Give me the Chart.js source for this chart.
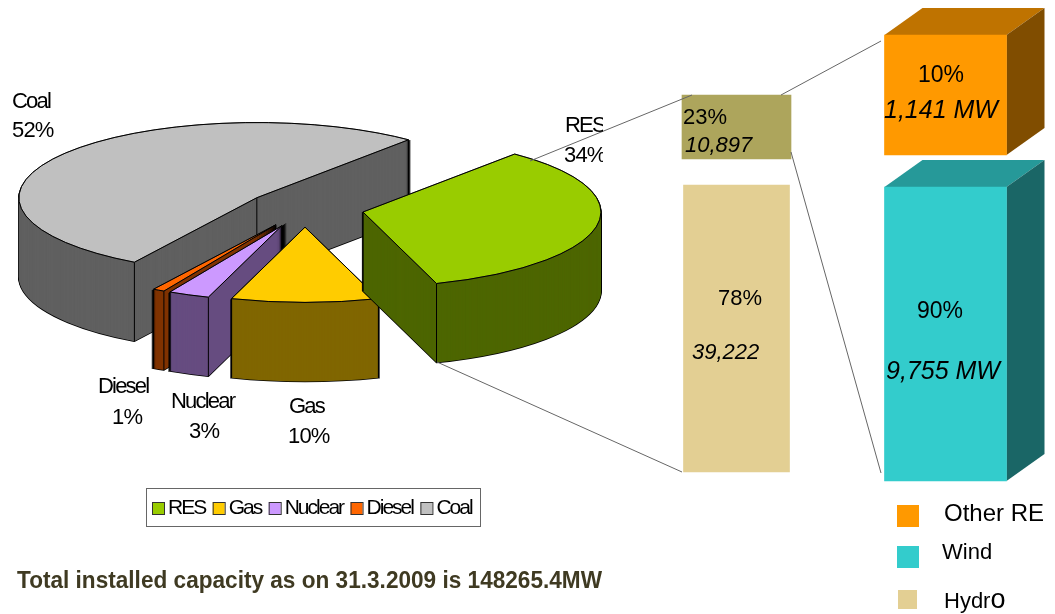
<!DOCTYPE html>
<html>
<head>
<meta charset="utf-8">
<title>Installed capacity</title>
<script src="https://cdn.jsdelivr.net/npm/chart.js@4"></script>
<style>
    html, body { margin: 0; padding: 0; background: #fff; overflow: hidden; }
    #stage { position: relative; width: 1055px; height: 614px; }
    canvas { position: absolute; left: 0; top: 0; }
</style>
</head>
<body>
<div id="stage">
    <canvas id="pieChart" width="626" height="527"></canvas>
    <canvas id="barChart" width="1055" height="614"></canvas>
</div>
<script>
// Data
const sourceNames = ["RES", "Gas", "Nuclear", "Diesel", "Coal"];
const sourceShares = [34, 10, 2.8, 0.8, 52.4];
const splitColumns = ["RES", "RES detail"];
const hydroShare = [78, null];
const resShare = [23, null];
const otherShare = [null, 10];
const windShare = [null, 90];
const hydroMw = "39,222";
const resMw = "10,897";
const otherMw = "1,141 MW";
const windMw = "9,755 MW";
const titleText = "Total installed capacity as on 31.3.2009 is 148265.4MW";

// Styling
const sourceColors = ["#99cc00", "#ffcc00", "#cc99ff", "#ff6600", "#c0c0c0"];
const sourceSides = ["#4d6600", "#806600", "#664c80", "#803300", "#606060"];
const drawOrder = [4, 3, 2, 1, 0]; // back to front

const pie = { radius: 238, squash: 0.316, depth: 79, explode: 59, rotation: 39.6, shiftX: -8, shiftY: -55 };
const FONT = '"Liberation Sans", Arial, sans-serif';

function wedgePath(ctx, arc, cx, cy, dx, dy, lift) {
    ctx.save();
    ctx.translate(cx + dx, cy + dy + lift);
    ctx.scale(1, pie.squash);
    ctx.beginPath();
    ctx.moveTo(0, 0);
    ctx.arc(0, 0, arc.outerRadius, arc.startAngle, arc.endAngle);
    ctx.closePath();
    ctx.restore();
}

// Turns the flat pie into the exploded, tilted one of the picture
const tiltedPie = {
    id: "tiltedPie",
    beforeDatasetDraw(chart) {
        const ctx = chart.ctx;
        const arcs = chart.getDatasetMeta(0).data;
        ctx.save();
        drawOrder.forEach((i) => {
            const arc = arcs[i];
            const s = arc.startAngle;
            const e = arc.endAngle;
            const mid = (s + e) / 2;
            const cx = arc.x + pie.shiftX;
            const cy = arc.y + pie.shiftY;
            const dx = Math.cos(mid) * pie.explode;
            const dy = Math.sin(mid) * pie.explode * pie.squash;

            // side walls: a dark pass, then the wall colour, leaves only the silhouette line
            ctx.strokeStyle = "#000";
            ctx.lineWidth = 1.5;
            for (let d = pie.depth; d > 0; d--) {
                wedgePath(ctx, arc, cx, cy, dx, dy, d);
                ctx.stroke();
            }
            ctx.fillStyle = sourceSides[i];
            for (let d = pie.depth; d > 0; d--) {
                wedgePath(ctx, arc, cx, cy, dx, dy, d);
                ctx.fill();
            }

            // vertical edges on the corners that face the viewer
            ctx.lineWidth = 1;
            const startFace = -Math.cos(s) > 0;
            const endFace = Math.cos(e) > 0;
            const corners = [];
            if (startFace || endFace) corners.push([0, 0]);
            if (startFace || Math.sin(s) > 0) corners.push([Math.cos(s), Math.sin(s)]);
            if (endFace || Math.sin(e) > 0) corners.push([Math.cos(e), Math.sin(e)]);
            ctx.beginPath();
            corners.forEach(([ux, uy]) => {
                const px = cx + dx + ux * arc.outerRadius;
                const py = cy + dy + uy * arc.outerRadius * pie.squash;
                ctx.moveTo(px, py);
                ctx.lineTo(px, py + pie.depth);
            });
            ctx.stroke();

            // top face comes from the library's own arc element
            ctx.save();
            ctx.translate(cx + dx, cy + dy);
            ctx.scale(1, pie.squash);
            ctx.translate(-arc.x, -arc.y);
            arc.draw(ctx);
            ctx.restore();
            wedgePath(ctx, arc, cx, cy, dx, dy, 0);
            ctx.stroke();
        });
        ctx.restore();
        return false;
    },
    // small boxed key, tighter than the built-in legend allows
    afterDraw(chart) {
        const ctx = chart.ctx;
        ctx.save();
        ctx.strokeStyle = "#666";
        ctx.lineWidth = 1;
        ctx.strokeRect(146.5, 488.5, 334, 38);
        ctx.font = `21px ${FONT}`;
        ctx.letterSpacing = "-2px";
        ctx.textBaseline = "alphabetic";
        let x = 152;
        sourceNames.forEach((name, i) => {
            ctx.fillStyle = sourceColors[i];
            ctx.strokeStyle = "#333";
            ctx.fillRect(x, 502, 12, 13);
            ctx.strokeRect(x + 0.5, 502.5, 12, 12);
            ctx.fillStyle = "#000";
            ctx.fillText(name, x + 16, 514);
            x += 16 + ctx.measureText(name).width + 7.5;
        });
        ctx.restore();
    },
};

new Chart(document.getElementById("pieChart"), {
    type: "pie",
    plugins: [tiltedPie],
    data: {
        labels: sourceNames,
        datasets: [{
            data: sourceShares,
            backgroundColor: sourceColors,
            borderColor: "#333",
            borderWidth: 1,
        }],
    },
    options: {
        responsive: false,
        animation: false,
        events: [],
        radius: pie.radius,
        rotation: pie.rotation,
        layout: { padding: 0 },
        plugins: { tooltip: { enabled: false }, legend: { display: false } },
    },
});

// Each box has its own hidden axis, since the boxes are not drawn to one scale
function boxAxis(value, top, bottom) {
    const unit = (bottom - top) / value;
    return { display: false, min: -(614 - bottom) / unit, max: bottom / unit };
}

const shareLabels = [
    { text: `${hydroShare[0]}%`, x: 718, y: 305, size: 22 },
    { text: hydroMw, x: 692, y: 359, size: 22, italic: true },
    { text: `${resShare[0]}%`, x: 683, y: 124, size: 22 },
    { text: resMw, x: 685, y: 152, size: 22, italic: true },
    { text: `${otherShare[1]}%`, x: 918, y: 82, size: 23 },
    { text: otherMw, x: 884, y: 118, size: 25, italic: true },
    { text: `${windShare[1]}%`, x: 917, y: 318, size: 23 },
    { text: windMw, x: 886, y: 379, size: 25, italic: true },
];

const sourceNameLabels = [
    { text: sourceNames[4], x: 12, y: 108 },
    { text: sourceNames[0], x: 565, y: 132, clipRight: 603 },
    { text: sourceNames[3], x: 98, y: 393 },
    { text: sourceNames[2], x: 171, y: 408 },
    { text: sourceNames[1], x: 289, y: 413 },
];

const sourcePercentLabels = [
    { text: `${Math.round(sourceShares[4])}%`, x: 12, y: 137 },
    { text: `${Math.round(sourceShares[0])}%`, x: 564, y: 162, clipRight: 603 },
    { text: `${Math.ceil(sourceShares[3])}%`, x: 112, y: 424 },
    { text: `${Math.ceil(sourceShares[2])}%`, x: 189, y: 438 },
    { text: `${Math.round(sourceShares[1])}%`, x: 288, y: 443 },
];

const connectors = [
    [530, 161, 692, 95],
    [437, 362, 682, 472],
    [781, 95, 881, 41],
    [791, 152, 881, 473],
];

const boxDepth = { x: 38, y: 27 };
const boxFaces = {
    Other: { top: "#bf7300", side: "#804d00" },
    Wind: { top: "#269999", side: "#1a6666" },
};

const keyItems = [
    { label: "Other RE", datasetIndex: 2, x: 897, y: 505, box: 22, textX: 944, textY: 521, size: 24 },
    { label: "Wind", datasetIndex: 3, x: 897, y: 546, box: 22, textX: 942, textY: 559, size: 22 },
    { label: "Hydr", datasetIndex: 0, x: 898, y: 590, box: 19, textX: 944, textY: 608, size: 22 },
];

function putText(ctx, item, size) {
    ctx.font = `${item.italic ? "italic " : ""}${item.size || size}px ${FONT}`;
    ctx.save();
    if (item.clipRight) {
        ctx.beginPath();
        ctx.rect(0, 0, item.clipRight, 614);
        ctx.clip();
    }
    ctx.fillText(item.text, item.x, item.y);
    ctx.restore();
}

const boxExtras = {
    id: "boxExtras",
    // 3D faces sit behind the flat bar fronts
    beforeDatasetsDraw(chart) {
        const ctx = chart.ctx;
        chart.data.datasets.forEach((ds, d) => {
            const faces = boxFaces[ds.label];
            if (!faces) return;
            chart.getDatasetMeta(d).data.forEach((bar, index) => {
                if (ds.data[index] === null) return;
                const l = bar.x - bar.width / 2;
                const r = bar.x + bar.width / 2;
                const t = bar.y;
                const b = bar.base;
                ctx.fillStyle = faces.top;
                ctx.beginPath();
                ctx.moveTo(l, t);
                ctx.lineTo(l + boxDepth.x, t - boxDepth.y);
                ctx.lineTo(r + boxDepth.x, t - boxDepth.y);
                ctx.lineTo(r, t);
                ctx.closePath();
                ctx.fill();
                ctx.fillStyle = faces.side;
                ctx.beginPath();
                ctx.moveTo(r, t);
                ctx.lineTo(r + boxDepth.x, t - boxDepth.y);
                ctx.lineTo(r + boxDepth.x, b - boxDepth.y);
                ctx.lineTo(r, b);
                ctx.closePath();
                ctx.fill();
            });
        });
    },
    afterDatasetsDraw(chart) {
        const ctx = chart.ctx;
        ctx.save();
        ctx.strokeStyle = "#666";
        ctx.lineWidth = 1;
        connectors.forEach(([x1, y1, x2, y2]) => {
            ctx.beginPath();
            ctx.moveTo(x1, y1);
            ctx.lineTo(x2, y2);
            ctx.stroke();
        });

        ctx.fillStyle = "#000";
        ctx.textBaseline = "alphabetic";
        ctx.letterSpacing = "-1.8px";
        sourceNameLabels.forEach((item) => putText(ctx, item, 22));
        ctx.letterSpacing = "-0.8px";
        sourcePercentLabels.forEach((item) => putText(ctx, item, 22));
        ctx.letterSpacing = "0px";
        shareLabels.forEach((item) => putText(ctx, item, 22));

        keyItems.forEach((item) => {
            ctx.fillStyle = chart.data.datasets[item.datasetIndex].backgroundColor;
            ctx.fillRect(item.x, item.y, item.box, item.box);
            ctx.fillStyle = "#000";
            ctx.font = `${item.size}px ${FONT}`;
            ctx.fillText(item.label, item.textX, item.textY);
        });
        // the last letter of this key label is set larger
        const hydroEnd = 944 + ctx.measureText("Hydr").width;
        ctx.font = `27px ${FONT}`;
        ctx.fillText("o", hydroEnd, 608);

        ctx.fillStyle = "#3f3a22";
        ctx.font = `bold 24px ${FONT}`;
        ctx.fillText(titleText, 17, 588, 585);
        ctx.restore();
    },
};

new Chart(document.getElementById("barChart"), {
    type: "bar",
    plugins: [boxExtras],
    data: {
        labels: splitColumns,
        datasets: [
            { label: "Hydro", data: hydroShare, backgroundColor: "#e3cf93", barThickness: 106, yAxisID: "yHydro" },
            { label: "RES", data: resShare, backgroundColor: "#ada55c", barThickness: 109, yAxisID: "yRes" },
            { label: "Other", data: otherShare, backgroundColor: "#ff9900", barThickness: 122, yAxisID: "yOther" },
            { label: "Wind", data: windShare, backgroundColor: "#33cccc", barThickness: 122, yAxisID: "yWind" },
        ],
    },
    options: {
        responsive: false,
        animation: false,
        events: [],
        layout: { padding: { left: 632, right: 5, top: 0, bottom: 0 } },
        datasets: { bar: { grouped: false } },
        plugins: { legend: { display: false }, tooltip: { enabled: false } },
        scales: {
            x: { display: false },
            yHydro: boxAxis(hydroShare[0], 185, 472),
            yRes: boxAxis(resShare[0], 95, 159),
            yOther: boxAxis(otherShare[1], 35, 155),
            yWind: boxAxis(windShare[1], 187, 481),
        },
    },
});
</script>
</body>
</html>
